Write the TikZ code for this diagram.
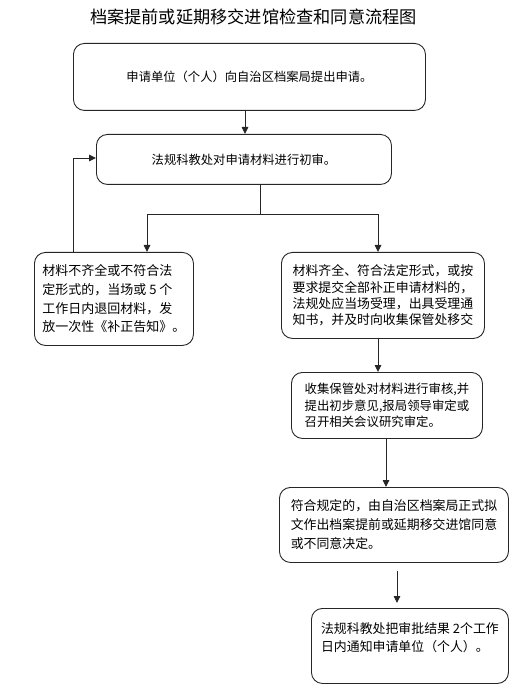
\documentclass[tikz,border=0pt]{standalone}
\usepackage{fontspec}
\setmainfont{Noto Sans CJK SC}
\usetikzlibrary{arrows.meta}
\begin{document}
\begin{tikzpicture}[x=1pt,y=-1pt,
  box/.style={draw=black!85,line width=0.9pt,rounded corners=11pt,anchor=north west,inner sep=0pt,align=left},
  arr/.style={draw=black!85,line width=0.9pt,-{Triangle[length=7pt,width=6.5pt]}},
  ln/.style={draw=black!85,line width=0.9pt}]
\useasboundingbox (0,0) rectangle (516,692);
\node[font=\fontsize{17.2}{19}\selectfont,inner sep=0pt] (title) at (253.5,17) {档案提前或延期移交进馆检查和同意流程图};
\node[box,minimum width=352pt,minimum height=67pt,font=\fontsize{12.3}{17}\selectfont] (b1) at (73,43) {申请单位（个人）向自治区档案局提出申请。};
\node[box,minimum width=295pt,minimum height=50pt,font=\fontsize{12.3}{17}\selectfont] (b2) at (96,134) {法规科教处对申请材料进行初审。};
\node[box,minimum width=159pt,minimum height=93pt,font=\fontsize{13}{18.7}\selectfont] (b3) at (34,252) {材料不齐全或不符合法\\定形式的，当场或 5 个\\工作日内退回材料，发\\放一次性《补正告知》。};
\node[box,minimum width=203pt,minimum height=86pt,font=\fontsize{12.9}{16.4}\selectfont] (b4) at (281,252) {材料齐全、符合法定形式，或按\\要求提交全部补正申请材料的，\\法规处应当场受理，出具受理通\\知书，并及时向收集保管处移交};
\node[box,minimum width=191pt,minimum height=66pt,font=\fontsize{12.4}{16.5}\selectfont] (b5) at (291,372) {收集保管处对材料进行审核,并\\提出初步意见,报局领导审定或\\召开相关会议研究审定。};
\node[box,minimum width=229pt,minimum height=75pt,font=\fontsize{12.9}{19}\selectfont] (b6) at (279,487) {符合规定的，由自治区档案局正式拟\\文作出档案提前或延期移交进馆同意\\或不同意决定。};
\node[box,minimum width=197pt,minimum height=75pt,font=\fontsize{12.9}{18}\selectfont] (b7) at (311,608) {法规科教处把审批结果 2个工作\\日内通知申请单位（个人）。\\\mbox{}};
\coordinate (s) at (260,214);
\coordinate (sl) at (147,214);
\coordinate (sr) at (378,214);
\coordinate (lb) at (73,158);
\coordinate (m) at (386,0);
\coordinate (q) at (397,0);
\draw[arr] (b1.south -| 245,0) -- (b2.north -| 245,0);
\draw[ln] (b2.south -| s) -- (s);
\draw[ln] (sl) -- (sr);
\draw[arr] (sl) -- (sl |- b3.north);
\draw[arr] (sr) -- (sr |- b4.north);
\draw[arr] (lb |- b3.north) -- (lb) -- (lb -| b2.west);
\draw[arr] (sr |- b4.south) -- (sr |- b5.north);
\draw[arr] (m |- b5.south) -- (m |- b6.north);
\draw[arr] ([yshift=-8pt]q |- b6.south) -- ([yshift=5pt]q |- b7.north);
\end{tikzpicture}
\end{document}
